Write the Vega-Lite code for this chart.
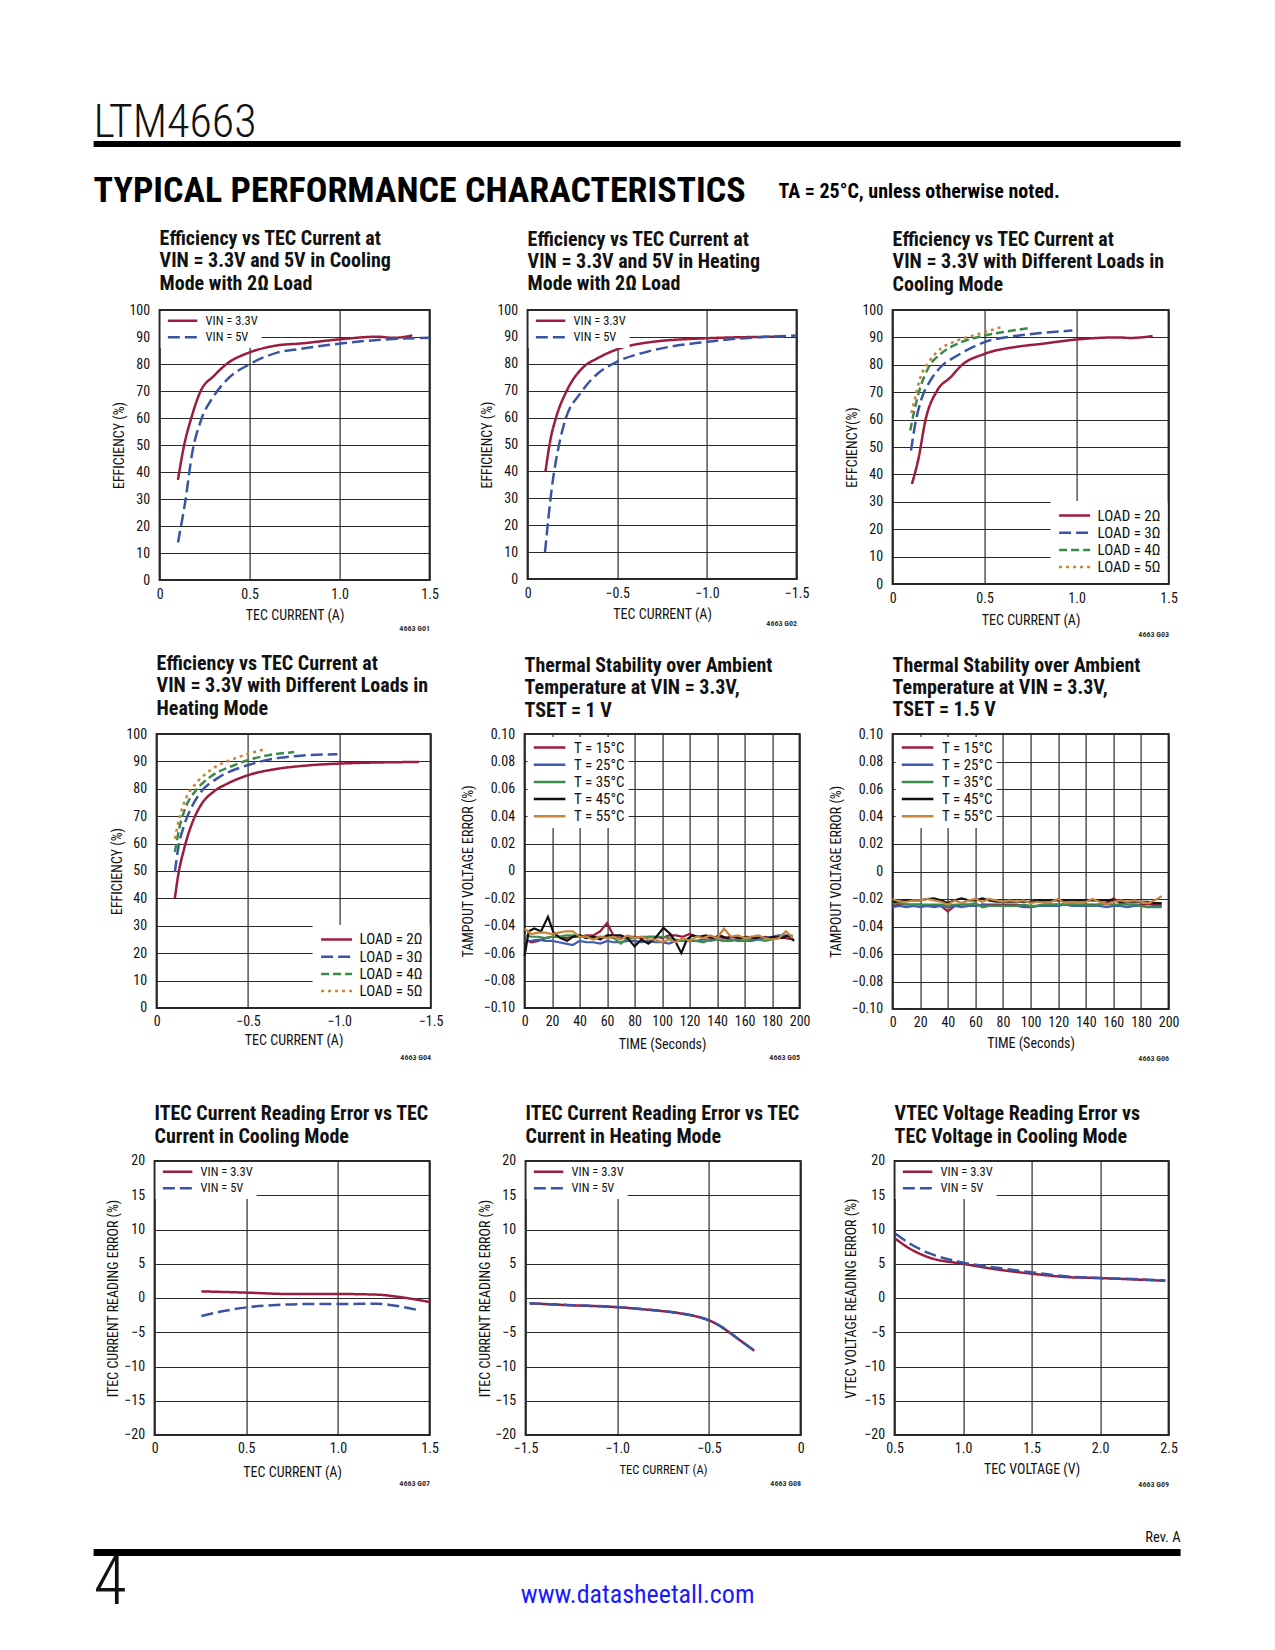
{
"$schema": "https://vega.github.io/schema/vega-lite/v6.json",
"background": "white",
"padding": {"left": 93.6, "top": 90, "right": 5, "bottom": 5},
"spacing": 0,
"bounds": "flush",
"resolve": {"scale": {"x": "independent", "y": "independent", "color": "independent", "strokeDash": "independent"}, "legend": {"color": "independent", "strokeDash": "independent"}},
"config": {
 "view": {"stroke": null},
 "font": "'Roboto Condensed', sans-serif",
 "title": {"fontSize": 20, "fontWeight": "bold", "color": "#111", "anchor": "start", "frame": "group", "lineHeight": 22.5},
 "axis": {"labelFontSize": 14, "labelColor": "#111", "labelPadding": 7, "labelFlush": false, "labelOverlap": false, "titleFontSize": 14, "titleFontWeight": "normal", "titleColor": "#111", "grid": true, "gridColor": "#2a2a2a", "gridWidth": 1.2, "gridOpacity": 1, "domain": false, "ticks": false},
 "axisY": {"labelPadding": 10},
 "legend": {"labelColor": "#111"}
},
"vconcat": [
 {"width": 1087, "height": 1, "data": {"values": []}, "mark": "point",
  "title": {"text": "LTM4663", "orient": "bottom", "anchor": "start", "baseline": "alphabetic", "offset": 46, "fontSize": 46, "fontWeight": 300, "color": "#111"}},
 {"width": 1, "height": 50, "data": {"values": []}, "mark": "point"},
 {"width": 1087, "height": 6, "view": {"fill": "black", "stroke": null}, "data": {"values": []}, "mark": "point"},
 {"hconcat": [
  {"width": 684.4, "height": 1, "data": {"values": []}, "mark": "point",
   "title": {"text": "TYPICAL PERFORMANCE CHARACTERISTICS", "orient": "bottom", "anchor": "start", "baseline": "alphabetic", "offset": 53.5, "fontSize": 36, "fontWeight": "bold", "color": "#000"}},
  {"width": 402.6, "height": 1, "data": {"values": []}, "mark": "point",
   "title": {"text": "TA = 25°C, unless otherwise noted.", "orient": "bottom", "anchor": "start", "baseline": "alphabetic", "offset": 49.8, "fontSize": 20, "fontWeight": "bold", "color": "#000"}}
 ], "spacing": 0, "bounds": "flush"},
 {"width": 1, "height": 163, "data": {"values": []}, "mark": "point"},
 {"hconcat": [
  {"width": 65.4, "height": 1, "data": {"values": []}, "mark": "point"},
  {"width": 270, "height": 270,
   "view": {"stroke": "#262626", "strokeWidth": 2},
   "title": {"text": ["Efficiency vs TEC Current at", "VIN = 3.3V and 5V in Cooling", "Mode with 2Ω Load"], "offset": 9},
   "data": {"values": [
    {"i":0.102,"k":"VIN = 3.3V","e":37.1},{"i":0.135,"k":"VIN = 3.3V","e":49.5},{"i":0.176,"k":"VIN = 3.3V","e":60},{"i":0.228,"k":"VIN = 3.3V","e":70},{"i":0.30,"k":"VIN = 3.3V","e":75.5},{"i":0.376,"k":"VIN = 3.3V","e":80.2},{"i":0.496,"k":"VIN = 3.3V","e":84.2},{"i":0.654,"k":"VIN = 3.3V","e":86.9},{"i":0.783,"k":"VIN = 3.3V","e":87.6},{"i":0.996,"k":"VIN = 3.3V","e":89.1},{"i":1.209,"k":"VIN = 3.3V","e":90.1},{"i":1.302,"k":"VIN = 3.3V","e":89.7},{"i":1.404,"k":"VIN = 3.3V","e":90.6},
    {"i":0.102,"k":"VIN = 5V","e":13.9},{"i":0.144,"k":"VIN = 5V","e":29.7},{"i":0.181,"k":"VIN = 5V","e":47},{"i":0.228,"k":"VIN = 5V","e":58.8},{"i":0.30,"k":"VIN = 5V","e":68},{"i":0.376,"k":"VIN = 5V","e":74.3},{"i":0.496,"k":"VIN = 5V","e":79.8},{"i":0.654,"k":"VIN = 5V","e":84.2},{"i":0.783,"k":"VIN = 5V","e":85.6},{"i":0.996,"k":"VIN = 5V","e":87.5},{"i":1.209,"k":"VIN = 5V","e":88.9},{"i":1.5,"k":"VIN = 5V","e":89.7}
   ]},
   "layer": [
    {"mark": {"type": "line", "strokeWidth": 2.5, "interpolate": "monotone"},
     "encoding": {
      "x": {"field": "i", "type": "quantitative", "scale": {"domain": [0, 1.5], "nice": false}, "axis": {"values": [0, 0.5, 1, 1.5], "labelExpr": "datum.value == 0 ? '0' : format(datum.value, '.1f')", "title": "TEC CURRENT (A)", "titlePadding": 7.6}},
      "y": {"field": "e", "type": "quantitative", "scale": {"domain": [0, 100], "nice": false}, "axis": {"values": [0,10,20,30,40,50,60,70,80,90,100], "title": "EFFICIENCY (%)", "titlePadding": 2}},
      "color": {"field": "k", "type": "nominal", "scale": {"domain": ["VIN = 3.3V", "VIN = 5V"], "range": ["#9c1c3c", "#3a54a4"]}, "legend": {"title": null, "orient": "top-left", "offset": 1, "fillColor": "white", "padding": 3, "symbolType": "stroke", "symbolSize": 870, "symbolStrokeWidth": 2.5, "symbolOffset": 3, "labelFontSize": 12.5, "labelOffset": 7, "rowPadding": 2.5, "clipHeight": 13.7}},
      "strokeDash": {"field": "k", "type": "nominal", "scale": {"domain": ["VIN = 3.3V", "VIN = 5V"], "range": [[1, 0], [12, 5]]}, "legend": {"title": null, "orient": "top-left", "offset": 1, "fillColor": "white", "padding": 3, "symbolType": "stroke", "symbolSize": 870, "symbolStrokeWidth": 2.5, "symbolOffset": 3, "labelFontSize": 12.5, "labelOffset": 7, "rowPadding": 2.5, "clipHeight": 13.7}}
     }},
    {"mark": {"type": "point", "opacity": 0},
     "encoding": {"x": {"field": "i", "type": "quantitative", "scale": {"domain": [0, 1.5], "nice": false}, "axis": {"orient": "bottom", "title": "4663 G01", "titleAnchor": "end", "titleFontSize": 8, "titleFontWeight": "bold", "titleColor": "#333", "labels": false, "ticks": false, "domain": false, "grid": false, "titlePadding": 44}}}}
   ],
   "resolve": {"scale": {"x": "independent"}, "axis": {"x": "independent"}}
  },
  {"width": 98, "height": 1, "data": {"values": []}, "mark": "point"},
  {"width": 269, "height": 269,
   "view": {"stroke": "#262626", "strokeWidth": 2},
   "title": {"text": ["Efficiency vs TEC Current at", "VIN = 3.3V and 5V in Heating", "Mode with 2Ω Load"], "offset": 8.5},
   "data": {"values": [
    {"i":-0.10,"k":"VIN = 3.3V","e":40.1},{"i":-0.127,"k":"VIN = 3.3V","e":51.7},{"i":-0.16,"k":"VIN = 3.3V","e":60.3},{"i":-0.22,"k":"VIN = 3.3V","e":70.2},{"i":-0.313,"k":"VIN = 3.3V","e":78.9},{"i":-0.388,"k":"VIN = 3.3V","e":82},{"i":-0.5,"k":"VIN = 3.3V","e":85.4},{"i":-0.667,"k":"VIN = 3.3V","e":87.9},{"i":-1.0,"k":"VIN = 3.3V","e":89.5},{"i":-1.43,"k":"VIN = 3.3V","e":90.1},
    {"i":-0.097,"k":"VIN = 5V","e":9.9},{"i":-0.136,"k":"VIN = 5V","e":34.3},{"i":-0.173,"k":"VIN = 5V","e":49.2},{"i":-0.21,"k":"VIN = 5V","e":59.1},{"i":-0.294,"k":"VIN = 5V","e":69},{"i":-0.388,"k":"VIN = 5V","e":76.2},{"i":-0.5,"k":"VIN = 5V","e":80.8},{"i":-0.667,"k":"VIN = 5V","e":84.5},{"i":-1.0,"k":"VIN = 5V","e":88.2},{"i":-1.5,"k":"VIN = 5V","e":90.5}
   ]},
   "layer": [
    {"mark": {"type": "line", "strokeWidth": 2.5, "interpolate": "monotone"},
     "encoding": {
      "x": {"field": "i", "type": "quantitative", "scale": {"domain": [0, -1.5], "nice": false}, "axis": {"values": [0, -0.5, -1, -1.5], "labelExpr": "datum.value == 0 ? '0' : format(datum.value, '.1f')", "title": "TEC CURRENT (A)", "titlePadding": 7}},
      "y": {"field": "e", "type": "quantitative", "scale": {"domain": [0, 100], "nice": false}, "axis": {"values": [0,10,20,30,40,50,60,70,80,90,100], "title": "EFFICIENCY (%)", "titlePadding": 2}},
      "color": {"field": "k", "type": "nominal", "scale": {"domain": ["VIN = 3.3V", "VIN = 5V"], "range": ["#9c1c3c", "#3a54a4"]}, "legend": {"title": null, "orient": "top-left", "offset": 1, "fillColor": "white", "padding": 3, "symbolType": "stroke", "symbolSize": 870, "symbolStrokeWidth": 2.5, "symbolOffset": 3, "labelFontSize": 12.5, "labelOffset": 7, "rowPadding": 2.5, "clipHeight": 13.7}},
      "strokeDash": {"field": "k", "type": "nominal", "scale": {"domain": ["VIN = 3.3V", "VIN = 5V"], "range": [[1, 0], [12, 5]]}, "legend": {"title": null, "orient": "top-left", "offset": 1, "fillColor": "white", "padding": 3, "symbolType": "stroke", "symbolSize": 870, "symbolStrokeWidth": 2.5, "symbolOffset": 3, "labelFontSize": 12.5, "labelOffset": 7, "rowPadding": 2.5, "clipHeight": 13.7}}
     }},
    {"mark": {"type": "point", "opacity": 0},
     "encoding": {"x": {"field": "i", "type": "quantitative", "scale": {"domain": [0, -1.5], "nice": false}, "axis": {"orient": "bottom", "title": "4663 G02", "titleAnchor": "end", "titleFontSize": 8, "titleFontWeight": "bold", "titleColor": "#333", "labels": false, "ticks": false, "domain": false, "grid": false, "titlePadding": 40}}}}
   ],
   "resolve": {"scale": {"x": "independent"}, "axis": {"x": "independent"}}
  },
  {"width": 96, "height": 1, "data": {"values": []}, "mark": "point"},
  {"width": 276, "height": 274,
   "view": {"stroke": "#262626", "strokeWidth": 2},
   "title": {"text": ["Efficiency vs TEC Current at", "VIN = 3.3V with Different Loads in", "Cooling Mode"], "offset": 8},
   "data": {"values": [
    {"i":0.105,"k":"LOAD = 2Ω","e":36.5},{"i":0.142,"k":"LOAD = 2Ω","e":46.2},{"i":0.178,"k":"LOAD = 2Ω","e":59.6},{"i":0.242,"k":"LOAD = 2Ω","e":70.6},{"i":0.314,"k":"LOAD = 2Ω","e":75.4},{"i":0.378,"k":"LOAD = 2Ω","e":80},{"i":0.496,"k":"LOAD = 2Ω","e":83.9},{"i":0.677,"k":"LOAD = 2Ω","e":86.6},{"i":0.804,"k":"LOAD = 2Ω","e":87.6},{"i":0.995,"k":"LOAD = 2Ω","e":89.2},{"i":1.222,"k":"LOAD = 2Ω","e":90},{"i":1.295,"k":"LOAD = 2Ω","e":89.8},{"i":1.413,"k":"LOAD = 2Ω","e":90.5},
    {"i":0.1,"k":"LOAD = 3Ω","e":48.7},{"i":0.123,"k":"LOAD = 3Ω","e":58.4},{"i":0.16,"k":"LOAD = 3Ω","e":68.1},{"i":0.205,"k":"LOAD = 3Ω","e":74.2},{"i":0.26,"k":"LOAD = 3Ω","e":79.1},{"i":0.35,"k":"LOAD = 3Ω","e":83.3},{"i":0.496,"k":"LOAD = 3Ω","e":88.2},{"i":0.677,"k":"LOAD = 3Ω","e":90.6},{"i":0.804,"k":"LOAD = 3Ω","e":91.6},{"i":0.977,"k":"LOAD = 3Ω","e":92.5},
    {"i":0.096,"k":"LOAD = 4Ω","e":56},{"i":0.118,"k":"LOAD = 4Ω","e":63.3},{"i":0.151,"k":"LOAD = 4Ω","e":71.8},{"i":0.196,"k":"LOAD = 4Ω","e":79.1},{"i":0.26,"k":"LOAD = 4Ω","e":83.9},{"i":0.35,"k":"LOAD = 4Ω","e":87.6},{"i":0.496,"k":"LOAD = 4Ω","e":90.6},{"i":0.623,"k":"LOAD = 4Ω","e":92.2},{"i":0.741,"k":"LOAD = 4Ω","e":93.4},
    {"i":0.102,"k":"LOAD = 5Ω","e":62.4},{"i":0.123,"k":"LOAD = 5Ω","e":68.1},{"i":0.151,"k":"LOAD = 5Ω","e":75.4},{"i":0.196,"k":"LOAD = 5Ω","e":80.9},{"i":0.26,"k":"LOAD = 5Ω","e":85.8},{"i":0.35,"k":"LOAD = 5Ω","e":88.8},{"i":0.496,"k":"LOAD = 5Ω","e":91.8},{"i":0.596,"k":"LOAD = 5Ω","e":93.9}
   ]},
   "layer": [
    {"mark": {"type": "line", "strokeWidth": 2.5, "interpolate": "monotone"},
     "encoding": {
      "x": {"field": "i", "type": "quantitative", "scale": {"domain": [0, 1.5], "nice": false}, "axis": {"values": [0, 0.5, 1, 1.5], "labelExpr": "datum.value == 0 ? '0' : format(datum.value, '.1f')", "title": "TEC CURRENT (A)", "titlePadding": 8}},
      "y": {"field": "e", "type": "quantitative", "scale": {"domain": [0, 100], "nice": false}, "axis": {"values": [0,10,20,30,40,50,60,70,80,90,100], "title": "EFFCIENCY(%)", "titlePadding": 2}},
      "color": {"field": "k", "type": "nominal", "scale": {"domain": ["LOAD = 2Ω", "LOAD = 3Ω", "LOAD = 4Ω", "LOAD = 5Ω"], "range": ["#9c1c3c", "#3a54a4", "#3a8a47", "#c8843c"]}, "legend": {"title": null, "orient": "bottom-right", "offset": 1.5, "fillColor": "white", "padding": 7, "symbolType": "stroke", "symbolSize": 961, "symbolStrokeWidth": 2.5, "symbolOffset": 0, "labelFontSize": 15, "labelOffset": 6, "rowPadding": 1.2, "clipHeight": 15}},
      "strokeDash": {"field": "k", "type": "nominal", "scale": {"domain": ["LOAD = 2Ω", "LOAD = 3Ω", "LOAD = 4Ω", "LOAD = 5Ω"], "range": [[1, 0], [12, 5], [8, 4], [3, 4]]}, "legend": {"title": null, "orient": "bottom-right", "offset": 1.5, "fillColor": "white", "padding": 7, "symbolType": "stroke", "symbolSize": 961, "symbolStrokeWidth": 2.5, "symbolOffset": 0, "labelFontSize": 15, "labelOffset": 6, "rowPadding": 1.2, "clipHeight": 15}}
     }},
    {"mark": {"type": "point", "opacity": 0},
     "encoding": {"x": {"field": "i", "type": "quantitative", "scale": {"domain": [0, 1.5], "nice": false}, "axis": {"orient": "bottom", "title": "4663 G03", "titleAnchor": "end", "titleFontSize": 8, "titleFontWeight": "bold", "titleColor": "#333", "labels": false, "ticks": false, "domain": false, "grid": false, "titlePadding": 46}}}}
   ],
   "resolve": {"scale": {"x": "independent"}, "axis": {"x": "independent"}}
  }
 ], "spacing": 0, "bounds": "flush",
 "resolve": {"scale": {"x": "independent", "y": "independent", "color": "independent", "strokeDash": "independent"}, "legend": {"color": "independent", "strokeDash": "independent"}}},
 {"width": 1, "height": 424, "data": {"values": []}, "mark": "point"},
 {"hconcat": [
  {"width": 62.1, "height": 1, "data": {"values": []}, "mark": "point"},
  {"width": 274, "height": 274,
   "view": {"stroke": "#262626", "strokeWidth": 2},
   "title": {"text": ["Efficiency vs TEC Current at", "VIN = 3.3V with Different Loads in", "Heating Mode"], "offset": 8},
   "data": {"values": [
    {"i":-0.1,"k":"LOAD = 2Ω","e":40.1},{"i":-0.118,"k":"LOAD = 2Ω","e":48.4},{"i":-0.151,"k":"LOAD = 2Ω","e":58.2},{"i":-0.197,"k":"LOAD = 2Ω","e":67.9},{"i":-0.242,"k":"LOAD = 2Ω","e":74},{"i":-0.315,"k":"LOAD = 2Ω","e":79.1},{"i":-0.388,"k":"LOAD = 2Ω","e":81.9},{"i":-0.498,"k":"LOAD = 2Ω","e":84.9},{"i":-0.662,"k":"LOAD = 2Ω","e":87.3},{"i":-0.789,"k":"LOAD = 2Ω","e":88.3},{"i":-0.999,"k":"LOAD = 2Ω","e":89.2},{"i":-1.436,"k":"LOAD = 2Ω","e":89.8},
    {"i":-0.1,"k":"LOAD = 3Ω","e":49.6},{"i":-0.118,"k":"LOAD = 3Ω","e":58.2},{"i":-0.151,"k":"LOAD = 3Ω","e":66.7},{"i":-0.197,"k":"LOAD = 3Ω","e":74},{"i":-0.242,"k":"LOAD = 3Ω","e":78.8},{"i":-0.334,"k":"LOAD = 3Ω","e":83.9},{"i":-0.498,"k":"LOAD = 3Ω","e":88.6},{"i":-0.662,"k":"LOAD = 3Ω","e":91.2},{"i":-0.789,"k":"LOAD = 3Ω","e":92.1},{"i":-0.99,"k":"LOAD = 3Ω","e":92.6},
    {"i":-0.1,"k":"LOAD = 4Ω","e":56.9},{"i":-0.124,"k":"LOAD = 4Ω","e":65.5},{"i":-0.16,"k":"LOAD = 4Ω","e":73.4},{"i":-0.215,"k":"LOAD = 4Ω","e":79.4},{"i":-0.297,"k":"LOAD = 4Ω","e":84.5},{"i":-0.425,"k":"LOAD = 4Ω","e":88.6},{"i":-0.498,"k":"LOAD = 4Ω","e":90.4},{"i":-0.607,"k":"LOAD = 4Ω","e":92.2},{"i":-0.753,"k":"LOAD = 4Ω","e":93.4},
    {"i":-0.1,"k":"LOAD = 5Ω","e":61.8},{"i":-0.124,"k":"LOAD = 5Ω","e":69.1},{"i":-0.16,"k":"LOAD = 5Ω","e":76.4},{"i":-0.215,"k":"LOAD = 5Ω","e":81.9},{"i":-0.297,"k":"LOAD = 5Ω","e":86.9},{"i":-0.425,"k":"LOAD = 5Ω","e":91},{"i":-0.498,"k":"LOAD = 5Ω","e":92.7},{"i":-0.598,"k":"LOAD = 5Ω","e":94.5}
   ]},
   "layer": [
    {"mark": {"type": "line", "strokeWidth": 2.5, "interpolate": "monotone"},
     "encoding": {
      "x": {"field": "i", "type": "quantitative", "scale": {"domain": [0, -1.5], "nice": false}, "axis": {"values": [0, -0.5, -1, -1.5], "labelExpr": "datum.value == 0 ? '0' : format(datum.value, '.1f')", "title": "TEC CURRENT (A)", "titlePadding": 5}},
      "y": {"field": "e", "type": "quantitative", "scale": {"domain": [0, 100], "nice": false}, "axis": {"values": [0,10,20,30,40,50,60,70,80,90,100], "title": "EFFICIENCY (%)", "titlePadding": 1.5}},
      "color": {"field": "k", "type": "nominal", "scale": {"domain": ["LOAD = 2Ω", "LOAD = 3Ω", "LOAD = 4Ω", "LOAD = 5Ω"], "range": ["#9c1c3c", "#3a54a4", "#3a8a47", "#c8843c"]}, "legend": {"title": null, "orient": "bottom-right", "offset": 1.5, "fillColor": "white", "padding": 7, "symbolType": "stroke", "symbolSize": 961, "symbolStrokeWidth": 2.5, "symbolOffset": 0, "labelFontSize": 15, "labelOffset": 6, "rowPadding": 1.2, "clipHeight": 15}},
      "strokeDash": {"field": "k", "type": "nominal", "scale": {"domain": ["LOAD = 2Ω", "LOAD = 3Ω", "LOAD = 4Ω", "LOAD = 5Ω"], "range": [[1, 0], [12, 5], [8, 4], [3, 4]]}, "legend": {"title": null, "orient": "bottom-right", "offset": 1.5, "fillColor": "white", "padding": 7, "symbolType": "stroke", "symbolSize": 961, "symbolStrokeWidth": 2.5, "symbolOffset": 0, "labelFontSize": 15, "labelOffset": 6, "rowPadding": 1.2, "clipHeight": 15}}
     }},
    {"mark": {"type": "point", "opacity": 0},
     "encoding": {"x": {"field": "i", "type": "quantitative", "scale": {"domain": [0, -1.5], "nice": false}, "axis": {"orient": "bottom", "title": "4663 G04", "titleAnchor": "end", "titleFontSize": 8, "titleFontWeight": "bold", "titleColor": "#333", "labels": false, "ticks": false, "domain": false, "grid": false, "titlePadding": 46}}}}
   ],
   "resolve": {"scale": {"x": "independent"}, "axis": {"x": "independent"}}
  },
  {"width": 94, "height": 1, "data": {"values": []}, "mark": "point"},
  {"width": 275, "height": 274,
   "view": {"stroke": "#262626", "strokeWidth": 2},
   "title": {"text": ["Thermal Stability over Ambient", "Temperature at VIN = 3.3V,", "TSET = 1 V"], "offset": 6},
   "data": {"values": [
    {"t":0,"k":"T = 15°C","e":-0.050},{"t":5,"k":"T = 15°C","e":-0.052},{"t":10,"k":"T = 15°C","e":-0.051},{"t":15,"k":"T = 15°C","e":-0.049},{"t":20,"k":"T = 15°C","e":-0.048},{"t":25,"k":"T = 15°C","e":-0.048},{"t":30,"k":"T = 15°C","e":-0.049},{"t":35,"k":"T = 15°C","e":-0.048},{"t":40,"k":"T = 15°C","e":-0.048},{"t":45,"k":"T = 15°C","e":-0.047},
    {"t":50,"k":"T = 15°C","e":-0.047},{"t":55,"k":"T = 15°C","e":-0.044},{"t":60,"k":"T = 15°C","e":-0.038},{"t":65,"k":"T = 15°C","e":-0.048},{"t":70,"k":"T = 15°C","e":-0.049},{"t":75,"k":"T = 15°C","e":-0.048},{"t":80,"k":"T = 15°C","e":-0.048},{"t":85,"k":"T = 15°C","e":-0.049},{"t":90,"k":"T = 15°C","e":-0.048},{"t":95,"k":"T = 15°C","e":-0.048},
    {"t":100,"k":"T = 15°C","e":-0.049},{"t":105,"k":"T = 15°C","e":-0.047},{"t":110,"k":"T = 15°C","e":-0.047},{"t":115,"k":"T = 15°C","e":-0.048},{"t":120,"k":"T = 15°C","e":-0.046},{"t":125,"k":"T = 15°C","e":-0.048},{"t":130,"k":"T = 15°C","e":-0.048},{"t":135,"k":"T = 15°C","e":-0.049},{"t":140,"k":"T = 15°C","e":-0.048},{"t":145,"k":"T = 15°C","e":-0.049},
    {"t":150,"k":"T = 15°C","e":-0.048},{"t":155,"k":"T = 15°C","e":-0.049},{"t":160,"k":"T = 15°C","e":-0.049},{"t":165,"k":"T = 15°C","e":-0.048},{"t":170,"k":"T = 15°C","e":-0.049},{"t":175,"k":"T = 15°C","e":-0.048},{"t":180,"k":"T = 15°C","e":-0.049},{"t":185,"k":"T = 15°C","e":-0.048},{"t":190,"k":"T = 15°C","e":-0.049},{"t":195,"k":"T = 15°C","e":-0.050},
    {"t":0,"k":"T = 25°C","e":-0.051},{"t":5,"k":"T = 25°C","e":-0.051},{"t":10,"k":"T = 25°C","e":-0.050},{"t":15,"k":"T = 25°C","e":-0.051},{"t":20,"k":"T = 25°C","e":-0.051},{"t":25,"k":"T = 25°C","e":-0.052},{"t":30,"k":"T = 25°C","e":-0.053},{"t":35,"k":"T = 25°C","e":-0.054},{"t":40,"k":"T = 25°C","e":-0.051},{"t":45,"k":"T = 25°C","e":-0.052},
    {"t":50,"k":"T = 25°C","e":-0.052},{"t":55,"k":"T = 25°C","e":-0.053},{"t":60,"k":"T = 25°C","e":-0.051},{"t":65,"k":"T = 25°C","e":-0.052},{"t":70,"k":"T = 25°C","e":-0.052},{"t":75,"k":"T = 25°C","e":-0.051},{"t":80,"k":"T = 25°C","e":-0.051},{"t":85,"k":"T = 25°C","e":-0.052},{"t":90,"k":"T = 25°C","e":-0.051},{"t":95,"k":"T = 25°C","e":-0.052},
    {"t":100,"k":"T = 25°C","e":-0.052},{"t":105,"k":"T = 25°C","e":-0.053},{"t":110,"k":"T = 25°C","e":-0.051},{"t":115,"k":"T = 25°C","e":-0.051},{"t":120,"k":"T = 25°C","e":-0.051},{"t":125,"k":"T = 25°C","e":-0.051},{"t":130,"k":"T = 25°C","e":-0.050},{"t":135,"k":"T = 25°C","e":-0.051},{"t":140,"k":"T = 25°C","e":-0.050},{"t":145,"k":"T = 25°C","e":-0.051},
    {"t":150,"k":"T = 25°C","e":-0.050},{"t":155,"k":"T = 25°C","e":-0.051},{"t":160,"k":"T = 25°C","e":-0.051},{"t":165,"k":"T = 25°C","e":-0.051},{"t":170,"k":"T = 25°C","e":-0.050},{"t":175,"k":"T = 25°C","e":-0.049},{"t":180,"k":"T = 25°C","e":-0.048},{"t":185,"k":"T = 25°C","e":-0.047},{"t":190,"k":"T = 25°C","e":-0.047},{"t":195,"k":"T = 25°C","e":-0.049},
    {"t":0,"k":"T = 35°C","e":-0.047},{"t":5,"k":"T = 35°C","e":-0.048},{"t":10,"k":"T = 35°C","e":-0.048},{"t":15,"k":"T = 35°C","e":-0.049},{"t":20,"k":"T = 35°C","e":-0.048},{"t":25,"k":"T = 35°C","e":-0.048},{"t":30,"k":"T = 35°C","e":-0.047},{"t":35,"k":"T = 35°C","e":-0.047},{"t":40,"k":"T = 35°C","e":-0.047},{"t":45,"k":"T = 35°C","e":-0.048},
    {"t":50,"k":"T = 35°C","e":-0.048},{"t":55,"k":"T = 35°C","e":-0.048},{"t":60,"k":"T = 35°C","e":-0.048},{"t":65,"k":"T = 35°C","e":-0.049},{"t":70,"k":"T = 35°C","e":-0.053},{"t":75,"k":"T = 35°C","e":-0.049},{"t":80,"k":"T = 35°C","e":-0.049},{"t":85,"k":"T = 35°C","e":-0.048},{"t":90,"k":"T = 35°C","e":-0.048},{"t":95,"k":"T = 35°C","e":-0.048},
    {"t":100,"k":"T = 35°C","e":-0.048},{"t":105,"k":"T = 35°C","e":-0.049},{"t":110,"k":"T = 35°C","e":-0.050},{"t":115,"k":"T = 35°C","e":-0.051},{"t":120,"k":"T = 35°C","e":-0.051},{"t":125,"k":"T = 35°C","e":-0.051},{"t":130,"k":"T = 35°C","e":-0.052},{"t":135,"k":"T = 35°C","e":-0.050},{"t":140,"k":"T = 35°C","e":-0.050},{"t":145,"k":"T = 35°C","e":-0.051},
    {"t":150,"k":"T = 35°C","e":-0.051},{"t":155,"k":"T = 35°C","e":-0.050},{"t":160,"k":"T = 35°C","e":-0.051},{"t":165,"k":"T = 35°C","e":-0.050},{"t":170,"k":"T = 35°C","e":-0.050},{"t":175,"k":"T = 35°C","e":-0.051},{"t":180,"k":"T = 35°C","e":-0.050},{"t":185,"k":"T = 35°C","e":-0.049},{"t":190,"k":"T = 35°C","e":-0.048},{"t":195,"k":"T = 35°C","e":-0.047},
    {"t":0,"k":"T = 45°C","e":-0.062},{"t":3,"k":"T = 45°C","e":-0.044},{"t":7,"k":"T = 45°C","e":-0.042},{"t":12,"k":"T = 45°C","e":-0.044},{"t":17,"k":"T = 45°C","e":-0.0335},{"t":21,"k":"T = 45°C","e":-0.045},{"t":26,"k":"T = 45°C","e":-0.049},{"t":31,"k":"T = 45°C","e":-0.051},{"t":35,"k":"T = 45°C","e":-0.048},{"t":40,"k":"T = 45°C","e":-0.047},
    {"t":45,"k":"T = 45°C","e":-0.049},{"t":50,"k":"T = 45°C","e":-0.048},{"t":55,"k":"T = 45°C","e":-0.050},{"t":60,"k":"T = 45°C","e":-0.047},{"t":65,"k":"T = 45°C","e":-0.047},{"t":70,"k":"T = 45°C","e":-0.047},{"t":75,"k":"T = 45°C","e":-0.049},{"t":80,"k":"T = 45°C","e":-0.055},{"t":85,"k":"T = 45°C","e":-0.050},{"t":90,"k":"T = 45°C","e":-0.053},
    {"t":95,"k":"T = 45°C","e":-0.049},{"t":101,"k":"T = 45°C","e":-0.0415},{"t":106,"k":"T = 45°C","e":-0.046},{"t":110,"k":"T = 45°C","e":-0.052},{"t":114,"k":"T = 45°C","e":-0.060},{"t":118,"k":"T = 45°C","e":-0.050},{"t":122,"k":"T = 45°C","e":-0.047},{"t":127,"k":"T = 45°C","e":-0.048},{"t":132,"k":"T = 45°C","e":-0.047},{"t":137,"k":"T = 45°C","e":-0.049},
    {"t":142,"k":"T = 45°C","e":-0.047},{"t":147,"k":"T = 45°C","e":-0.049},{"t":152,"k":"T = 45°C","e":-0.048},{"t":157,"k":"T = 45°C","e":-0.049},{"t":162,"k":"T = 45°C","e":-0.048},{"t":167,"k":"T = 45°C","e":-0.049},{"t":172,"k":"T = 45°C","e":-0.048},{"t":177,"k":"T = 45°C","e":-0.049},{"t":182,"k":"T = 45°C","e":-0.048},{"t":187,"k":"T = 45°C","e":-0.049},
    {"t":192,"k":"T = 45°C","e":-0.047},{"t":196,"k":"T = 45°C","e":-0.051},
    {"t":0,"k":"T = 55°C","e":-0.042},{"t":5,"k":"T = 55°C","e":-0.046},{"t":10,"k":"T = 55°C","e":-0.045},{"t":15,"k":"T = 55°C","e":-0.045},{"t":20,"k":"T = 55°C","e":-0.046},{"t":25,"k":"T = 55°C","e":-0.045},{"t":30,"k":"T = 55°C","e":-0.044},{"t":35,"k":"T = 55°C","e":-0.044},{"t":40,"k":"T = 55°C","e":-0.048},{"t":45,"k":"T = 55°C","e":-0.048},
    {"t":50,"k":"T = 55°C","e":-0.050},{"t":55,"k":"T = 55°C","e":-0.048},{"t":60,"k":"T = 55°C","e":-0.049},{"t":65,"k":"T = 55°C","e":-0.048},{"t":70,"k":"T = 55°C","e":-0.050},{"t":75,"k":"T = 55°C","e":-0.047},{"t":80,"k":"T = 55°C","e":-0.049},{"t":85,"k":"T = 55°C","e":-0.048},{"t":90,"k":"T = 55°C","e":-0.050},{"t":95,"k":"T = 55°C","e":-0.050},
    {"t":100,"k":"T = 55°C","e":-0.052},{"t":105,"k":"T = 55°C","e":-0.050},{"t":110,"k":"T = 55°C","e":-0.052},{"t":115,"k":"T = 55°C","e":-0.049},{"t":120,"k":"T = 55°C","e":-0.051},{"t":125,"k":"T = 55°C","e":-0.048},{"t":130,"k":"T = 55°C","e":-0.049},{"t":135,"k":"T = 55°C","e":-0.047},{"t":140,"k":"T = 55°C","e":-0.049},{"t":145,"k":"T = 55°C","e":-0.042},
    {"t":150,"k":"T = 55°C","e":-0.048},{"t":155,"k":"T = 55°C","e":-0.047},{"t":160,"k":"T = 55°C","e":-0.049},{"t":165,"k":"T = 55°C","e":-0.048},{"t":170,"k":"T = 55°C","e":-0.047},{"t":175,"k":"T = 55°C","e":-0.049},{"t":180,"k":"T = 55°C","e":-0.050},{"t":185,"k":"T = 55°C","e":-0.049},{"t":190,"k":"T = 55°C","e":-0.044},{"t":195,"k":"T = 55°C","e":-0.049}
   ]},
   "layer": [
    {"mark": {"type": "line", "strokeWidth": 2.2},
     "encoding": {
      "x": {"field": "t", "type": "quantitative", "scale": {"domain": [0, 200], "nice": false}, "axis": {"values": [0,20,40,60,80,100,120,140,160,180,200], "format": "d", "title": "TIME (Seconds)", "titlePadding": 9}},
      "y": {"field": "e", "type": "quantitative", "scale": {"domain": [-0.1, 0.1], "nice": false, "zero": false}, "axis": {"values": [-0.1,-0.08,-0.06,-0.04,-0.02,0,0.02,0.04,0.06,0.08,0.1], "labelExpr": "datum.value == 0 ? '0' : format(datum.value, '.2f')", "title": "TAMPOUT VOLTAGE ERROR (%)", "titlePadding": 7.3}},
      "color": {"field": "k", "type": "nominal", "scale": {"domain": ["T = 15°C", "T = 25°C", "T = 35°C", "T = 45°C", "T = 55°C"], "range": ["#9c1c3c", "#3f5bb5", "#3a8f4a", "#111111", "#c8843c"]}, "legend": {"title": null, "orient": "top-left", "offset": 3, "fillColor": "white", "padding": 3, "symbolType": "stroke", "symbolSize": 1000, "symbolStrokeWidth": 2.5, "symbolOffset": 1.5, "labelFontSize": 15, "labelOffset": 7, "rowPadding": 1.2, "clipHeight": 15}}
     }},
    {"mark": {"type": "point", "opacity": 0},
     "encoding": {"x": {"field": "t", "type": "quantitative", "scale": {"domain": [0, 200], "nice": false}, "axis": {"orient": "bottom", "title": "4663 G05", "titleAnchor": "end", "titleFontSize": 8, "titleFontWeight": "bold", "titleColor": "#333", "labels": false, "ticks": false, "domain": false, "grid": false, "titlePadding": 46}}}}
   ],
   "resolve": {"scale": {"x": "independent"}, "axis": {"x": "independent"}}
  },
  {"width": 92.3, "height": 1, "data": {"values": []}, "mark": "point"},
  {"width": 276, "height": 275,
   "view": {"stroke": "#262626", "strokeWidth": 2},
   "title": {"text": ["Thermal Stability over Ambient", "Temperature at VIN = 3.3V,", "TSET = 1.5 V"], "offset": 6.5},
   "data": {"values": [
    {"t":0,"k":"T = 15°C","e":-0.025},{"t":5,"k":"T = 15°C","e":-0.024},{"t":10,"k":"T = 15°C","e":-0.024},{"t":15,"k":"T = 15°C","e":-0.024},{"t":20,"k":"T = 15°C","e":-0.024},{"t":25,"k":"T = 15°C","e":-0.025},{"t":30,"k":"T = 15°C","e":-0.025},{"t":35,"k":"T = 15°C","e":-0.025},{"t":40,"k":"T = 15°C","e":-0.029},{"t":45,"k":"T = 15°C","e":-0.025},
    {"t":50,"k":"T = 15°C","e":-0.024},{"t":55,"k":"T = 15°C","e":-0.024},{"t":60,"k":"T = 15°C","e":-0.025},{"t":65,"k":"T = 15°C","e":-0.024},{"t":70,"k":"T = 15°C","e":-0.024},{"t":75,"k":"T = 15°C","e":-0.024},{"t":80,"k":"T = 15°C","e":-0.024},{"t":85,"k":"T = 15°C","e":-0.024},{"t":90,"k":"T = 15°C","e":-0.024},{"t":95,"k":"T = 15°C","e":-0.025},
    {"t":100,"k":"T = 15°C","e":-0.026},{"t":105,"k":"T = 15°C","e":-0.025},{"t":110,"k":"T = 15°C","e":-0.024},{"t":115,"k":"T = 15°C","e":-0.024},{"t":120,"k":"T = 15°C","e":-0.024},{"t":125,"k":"T = 15°C","e":-0.024},{"t":130,"k":"T = 15°C","e":-0.024},{"t":135,"k":"T = 15°C","e":-0.024},{"t":140,"k":"T = 15°C","e":-0.024},{"t":145,"k":"T = 15°C","e":-0.024},
    {"t":150,"k":"T = 15°C","e":-0.024},{"t":155,"k":"T = 15°C","e":-0.023},{"t":160,"k":"T = 15°C","e":-0.0195},{"t":165,"k":"T = 15°C","e":-0.023},{"t":170,"k":"T = 15°C","e":-0.024},{"t":175,"k":"T = 15°C","e":-0.024},{"t":180,"k":"T = 15°C","e":-0.024},{"t":185,"k":"T = 15°C","e":-0.024},{"t":190,"k":"T = 15°C","e":-0.024},{"t":195,"k":"T = 15°C","e":-0.024},
    {"t":0,"k":"T = 25°C","e":-0.026},{"t":5,"k":"T = 25°C","e":-0.025},{"t":10,"k":"T = 25°C","e":-0.026},{"t":15,"k":"T = 25°C","e":-0.025},{"t":20,"k":"T = 25°C","e":-0.026},{"t":25,"k":"T = 25°C","e":-0.025},{"t":30,"k":"T = 25°C","e":-0.026},{"t":35,"k":"T = 25°C","e":-0.025},{"t":40,"k":"T = 25°C","e":-0.026},{"t":45,"k":"T = 25°C","e":-0.025},
    {"t":50,"k":"T = 25°C","e":-0.026},{"t":55,"k":"T = 25°C","e":-0.025},{"t":60,"k":"T = 25°C","e":-0.025},{"t":65,"k":"T = 25°C","e":-0.024},{"t":70,"k":"T = 25°C","e":-0.025},{"t":75,"k":"T = 25°C","e":-0.025},{"t":80,"k":"T = 25°C","e":-0.025},{"t":85,"k":"T = 25°C","e":-0.025},{"t":90,"k":"T = 25°C","e":-0.025},{"t":95,"k":"T = 25°C","e":-0.026},
    {"t":100,"k":"T = 25°C","e":-0.026},{"t":105,"k":"T = 25°C","e":-0.025},{"t":110,"k":"T = 25°C","e":-0.025},{"t":115,"k":"T = 25°C","e":-0.025},{"t":120,"k":"T = 25°C","e":-0.025},{"t":125,"k":"T = 25°C","e":-0.024},{"t":130,"k":"T = 25°C","e":-0.025},{"t":135,"k":"T = 25°C","e":-0.025},{"t":140,"k":"T = 25°C","e":-0.025},{"t":145,"k":"T = 25°C","e":-0.025},
    {"t":150,"k":"T = 25°C","e":-0.025},{"t":155,"k":"T = 25°C","e":-0.026},{"t":160,"k":"T = 25°C","e":-0.025},{"t":165,"k":"T = 25°C","e":-0.025},{"t":170,"k":"T = 25°C","e":-0.026},{"t":175,"k":"T = 25°C","e":-0.025},{"t":180,"k":"T = 25°C","e":-0.025},{"t":185,"k":"T = 25°C","e":-0.026},{"t":190,"k":"T = 25°C","e":-0.025},{"t":195,"k":"T = 25°C","e":-0.025},
    {"t":0,"k":"T = 35°C","e":-0.023},{"t":5,"k":"T = 35°C","e":-0.023},{"t":10,"k":"T = 35°C","e":-0.024},{"t":15,"k":"T = 35°C","e":-0.024},{"t":20,"k":"T = 35°C","e":-0.024},{"t":25,"k":"T = 35°C","e":-0.024},{"t":30,"k":"T = 35°C","e":-0.024},{"t":35,"k":"T = 35°C","e":-0.024},{"t":40,"k":"T = 35°C","e":-0.025},{"t":45,"k":"T = 35°C","e":-0.024},
    {"t":50,"k":"T = 35°C","e":-0.024},{"t":55,"k":"T = 35°C","e":-0.024},{"t":60,"k":"T = 35°C","e":-0.023},{"t":65,"k":"T = 35°C","e":-0.026},{"t":70,"k":"T = 35°C","e":-0.025},{"t":75,"k":"T = 35°C","e":-0.025},{"t":80,"k":"T = 35°C","e":-0.025},{"t":85,"k":"T = 35°C","e":-0.025},{"t":90,"k":"T = 35°C","e":-0.025},{"t":95,"k":"T = 35°C","e":-0.024},
    {"t":100,"k":"T = 35°C","e":-0.025},{"t":105,"k":"T = 35°C","e":-0.025},{"t":110,"k":"T = 35°C","e":-0.024},{"t":115,"k":"T = 35°C","e":-0.024},{"t":120,"k":"T = 35°C","e":-0.024},{"t":125,"k":"T = 35°C","e":-0.024},{"t":130,"k":"T = 35°C","e":-0.024},{"t":135,"k":"T = 35°C","e":-0.024},{"t":140,"k":"T = 35°C","e":-0.024},{"t":145,"k":"T = 35°C","e":-0.025},
    {"t":150,"k":"T = 35°C","e":-0.024},{"t":155,"k":"T = 35°C","e":-0.024},{"t":160,"k":"T = 35°C","e":-0.024},{"t":165,"k":"T = 35°C","e":-0.024},{"t":170,"k":"T = 35°C","e":-0.024},{"t":175,"k":"T = 35°C","e":-0.024},{"t":180,"k":"T = 35°C","e":-0.025},{"t":185,"k":"T = 35°C","e":-0.026},{"t":190,"k":"T = 35°C","e":-0.026},{"t":195,"k":"T = 35°C","e":-0.026},
    {"t":0,"k":"T = 45°C","e":-0.022},{"t":5,"k":"T = 45°C","e":-0.022},{"t":10,"k":"T = 45°C","e":-0.021},{"t":15,"k":"T = 45°C","e":-0.021},{"t":20,"k":"T = 45°C","e":-0.021},{"t":25,"k":"T = 45°C","e":-0.020},{"t":30,"k":"T = 45°C","e":-0.0195},{"t":35,"k":"T = 45°C","e":-0.021},{"t":40,"k":"T = 45°C","e":-0.023},{"t":45,"k":"T = 45°C","e":-0.021},
    {"t":50,"k":"T = 45°C","e":-0.0195},{"t":55,"k":"T = 45°C","e":-0.021},{"t":60,"k":"T = 45°C","e":-0.021},{"t":65,"k":"T = 45°C","e":-0.0195},{"t":70,"k":"T = 45°C","e":-0.021},{"t":75,"k":"T = 45°C","e":-0.022},{"t":80,"k":"T = 45°C","e":-0.022},{"t":85,"k":"T = 45°C","e":-0.022},{"t":90,"k":"T = 45°C","e":-0.022},{"t":95,"k":"T = 45°C","e":-0.022},
    {"t":100,"k":"T = 45°C","e":-0.022},{"t":105,"k":"T = 45°C","e":-0.021},{"t":110,"k":"T = 45°C","e":-0.021},{"t":115,"k":"T = 45°C","e":-0.021},{"t":120,"k":"T = 45°C","e":-0.021},{"t":125,"k":"T = 45°C","e":-0.021},{"t":130,"k":"T = 45°C","e":-0.021},{"t":135,"k":"T = 45°C","e":-0.021},{"t":140,"k":"T = 45°C","e":-0.021},{"t":145,"k":"T = 45°C","e":-0.021},
    {"t":150,"k":"T = 45°C","e":-0.021},{"t":155,"k":"T = 45°C","e":-0.021},{"t":160,"k":"T = 45°C","e":-0.021},{"t":165,"k":"T = 45°C","e":-0.022},{"t":170,"k":"T = 45°C","e":-0.022},{"t":175,"k":"T = 45°C","e":-0.022},{"t":180,"k":"T = 45°C","e":-0.022},{"t":185,"k":"T = 45°C","e":-0.022},{"t":190,"k":"T = 45°C","e":-0.023},{"t":195,"k":"T = 45°C","e":-0.023},
    {"t":0,"k":"T = 55°C","e":-0.020},{"t":5,"k":"T = 55°C","e":-0.022},{"t":10,"k":"T = 55°C","e":-0.022},{"t":15,"k":"T = 55°C","e":-0.021},{"t":20,"k":"T = 55°C","e":-0.021},{"t":25,"k":"T = 55°C","e":-0.020},{"t":30,"k":"T = 55°C","e":-0.021},{"t":35,"k":"T = 55°C","e":-0.022},{"t":40,"k":"T = 55°C","e":-0.024},{"t":45,"k":"T = 55°C","e":-0.021},
    {"t":50,"k":"T = 55°C","e":-0.023},{"t":55,"k":"T = 55°C","e":-0.021},{"t":60,"k":"T = 55°C","e":-0.020},{"t":65,"k":"T = 55°C","e":-0.022},{"t":70,"k":"T = 55°C","e":-0.020},{"t":75,"k":"T = 55°C","e":-0.021},{"t":80,"k":"T = 55°C","e":-0.022},{"t":85,"k":"T = 55°C","e":-0.021},{"t":90,"k":"T = 55°C","e":-0.022},{"t":95,"k":"T = 55°C","e":-0.021},
    {"t":100,"k":"T = 55°C","e":-0.023},{"t":105,"k":"T = 55°C","e":-0.022},{"t":110,"k":"T = 55°C","e":-0.023},{"t":115,"k":"T = 55°C","e":-0.022},{"t":120,"k":"T = 55°C","e":-0.020},{"t":125,"k":"T = 55°C","e":-0.023},{"t":130,"k":"T = 55°C","e":-0.022},{"t":135,"k":"T = 55°C","e":-0.023},{"t":140,"k":"T = 55°C","e":-0.022},{"t":145,"k":"T = 55°C","e":-0.020},
    {"t":150,"k":"T = 55°C","e":-0.022},{"t":155,"k":"T = 55°C","e":-0.024},{"t":160,"k":"T = 55°C","e":-0.022},{"t":165,"k":"T = 55°C","e":-0.021},{"t":170,"k":"T = 55°C","e":-0.022},{"t":175,"k":"T = 55°C","e":-0.021},{"t":180,"k":"T = 55°C","e":-0.022},{"t":185,"k":"T = 55°C","e":-0.023},{"t":190,"k":"T = 55°C","e":-0.021},{"t":195,"k":"T = 55°C","e":-0.018}
   ]},
   "layer": [
    {"mark": {"type": "line", "strokeWidth": 2.2},
     "encoding": {
      "x": {"field": "t", "type": "quantitative", "scale": {"domain": [0, 200], "nice": false}, "axis": {"values": [0,20,40,60,80,100,120,140,160,180,200], "format": "d", "title": "TIME (Seconds)", "titlePadding": 7}},
      "y": {"field": "e", "type": "quantitative", "scale": {"domain": [-0.1, 0.1], "nice": false, "zero": false}, "axis": {"values": [-0.1,-0.08,-0.06,-0.04,-0.02,0,0.02,0.04,0.06,0.08,0.1], "labelExpr": "datum.value == 0 ? '0' : format(datum.value, '.2f')", "title": "TAMPOUT VOLTAGE ERROR (%)", "titlePadding": 7.4}},
      "color": {"field": "k", "type": "nominal", "scale": {"domain": ["T = 15°C", "T = 25°C", "T = 35°C", "T = 45°C", "T = 55°C"], "range": ["#9c1c3c", "#3f5bb5", "#3a8f4a", "#111111", "#c8843c"]}, "legend": {"title": null, "orient": "top-left", "offset": 3, "fillColor": "white", "padding": 3, "symbolType": "stroke", "symbolSize": 1000, "symbolStrokeWidth": 2.5, "symbolOffset": 1.5, "labelFontSize": 15, "labelOffset": 7, "rowPadding": 1.2, "clipHeight": 15}}
     }},
    {"mark": {"type": "point", "opacity": 0},
     "encoding": {"x": {"field": "t", "type": "quantitative", "scale": {"domain": [0, 200], "nice": false}, "axis": {"orient": "bottom", "title": "4663 G06", "titleAnchor": "end", "titleFontSize": 8, "titleFontWeight": "bold", "titleColor": "#333", "labels": false, "ticks": false, "domain": false, "grid": false, "titlePadding": 46}}}}
   ],
   "resolve": {"scale": {"x": "independent"}, "axis": {"x": "independent"}}
  }
 ], "spacing": 0, "bounds": "flush",
 "resolve": {"scale": {"x": "independent", "y": "independent", "color": "independent", "strokeDash": "independent"}, "legend": {"color": "independent", "strokeDash": "independent"}}},
 {"width": 1, "height": 427, "data": {"values": []}, "mark": "point"},
 {"hconcat": [
  {"width": 60.7, "height": 1, "data": {"values": []}, "mark": "point"},
  {"width": 275, "height": 274,
   "view": {"stroke": "#262626", "strokeWidth": 2},
   "title": {"text": ["ITEC Current Reading Error vs TEC", "Current in Cooling Mode"], "offset": 7},
   "data": {"values": [
    {"i":0.255,"k":"VIN = 3.3V","e":0.97},{"i":0.504,"k":"VIN = 3.3V","e":0.78},{"i":0.741,"k":"VIN = 3.3V","e":0.58},{"i":0.996,"k":"VIN = 3.3V","e":0.58},{"i":1.214,"k":"VIN = 3.3V","e":0.49},{"i":1.323,"k":"VIN = 3.3V","e":0.19},{"i":1.5,"k":"VIN = 3.3V","e":-0.58},
    {"i":0.255,"k":"VIN = 5V","e":-2.63},{"i":0.377,"k":"VIN = 5V","e":-1.9},{"i":0.504,"k":"VIN = 5V","e":-1.36},{"i":0.668,"k":"VIN = 5V","e":-1.02},{"i":0.832,"k":"VIN = 5V","e":-0.88},{"i":0.996,"k":"VIN = 5V","e":-0.88},{"i":1.214,"k":"VIN = 5V","e":-0.83},{"i":1.323,"k":"VIN = 5V","e":-1.17},{"i":1.451,"k":"VIN = 5V","e":-1.85}
   ]},
   "layer": [
    {"mark": {"type": "line", "strokeWidth": 2.5, "interpolate": "monotone"},
     "encoding": {
      "x": {"field": "i", "type": "quantitative", "scale": {"domain": [0, 1.5], "nice": false}, "axis": {"values": [0, 0.5, 1, 1.5], "labelExpr": "datum.value == 0 ? '0' : format(datum.value, '.1f')", "title": "TEC CURRENT (A)", "titlePadding": 10}},
      "y": {"field": "e", "type": "quantitative", "scale": {"domain": [-20, 20], "nice": false, "zero": false}, "axis": {"values": [-20,-15,-10,-5,0,5,10,15,20], "format": "d", "title": "ITEC CURRENT READING ERROR (%)", "titlePadding": 3}},
      "color": {"field": "k", "type": "nominal", "scale": {"domain": ["VIN = 3.3V", "VIN = 5V"], "range": ["#9c1c3c", "#3a54a4"]}, "legend": {"title": null, "orient": "top-left", "offset": 1, "fillColor": "white", "padding": 3, "symbolType": "stroke", "symbolSize": 870, "symbolStrokeWidth": 2.5, "symbolOffset": 3, "labelFontSize": 12.5, "labelOffset": 7, "rowPadding": 2.5, "clipHeight": 13.7}},
      "strokeDash": {"field": "k", "type": "nominal", "scale": {"domain": ["VIN = 3.3V", "VIN = 5V"], "range": [[1, 0], [12, 5]]}, "legend": {"title": null, "orient": "top-left", "offset": 1, "fillColor": "white", "padding": 3, "symbolType": "stroke", "symbolSize": 870, "symbolStrokeWidth": 2.5, "symbolOffset": 3, "labelFontSize": 12.5, "labelOffset": 7, "rowPadding": 2.5, "clipHeight": 13.7}}
     }},
    {"mark": {"type": "point", "opacity": 0},
     "encoding": {"x": {"field": "i", "type": "quantitative", "scale": {"domain": [0, 1.5], "nice": false}, "axis": {"orient": "bottom", "title": "4663 G07", "titleAnchor": "end", "titleFontSize": 8, "titleFontWeight": "bold", "titleColor": "#333", "labels": false, "ticks": false, "domain": false, "grid": false, "titlePadding": 45}}}}
   ],
   "resolve": {"scale": {"x": "independent"}, "axis": {"x": "independent"}}
  },
  {"width": 95.3, "height": 1, "data": {"values": []}, "mark": "point"},
  {"width": 275, "height": 274,
   "view": {"stroke": "#262626", "strokeWidth": 2},
   "title": {"text": ["ITEC Current Reading Error vs TEC", "Current in Heating Mode"], "offset": 7},
   "data": {"values": [
    {"i":-1.478,"k":"VIN = 3.3V","e":-0.78},{"i":-1.369,"k":"VIN = 3.3V","e":-0.92},{"i":-1.25,"k":"VIN = 3.3V","e":-1.07},{"i":-1.132,"k":"VIN = 3.3V","e":-1.17},{"i":-1.014,"k":"VIN = 3.3V","e":-1.31},{"i":-0.896,"k":"VIN = 3.3V","e":-1.56},{"i":-0.777,"k":"VIN = 3.3V","e":-1.85},{"i":-0.659,"k":"VIN = 3.3V","e":-2.24},{"i":-0.544,"k":"VIN = 3.3V","e":-2.87},{"i":-0.495,"k":"VIN = 3.3V","e":-3.31},{"i":-0.44,"k":"VIN = 3.3V","e":-4.09},{"i":-0.34,"k":"VIN = 3.3V","e":-5.99},{"i":-0.253,"k":"VIN = 3.3V","e":-7.69},
    {"i":-1.478,"k":"VIN = 5V","e":-0.76},{"i":-1.369,"k":"VIN = 5V","e":-0.9},{"i":-1.25,"k":"VIN = 5V","e":-1.05},{"i":-1.132,"k":"VIN = 5V","e":-1.16},{"i":-1.014,"k":"VIN = 5V","e":-1.3},{"i":-0.896,"k":"VIN = 5V","e":-1.55},{"i":-0.777,"k":"VIN = 5V","e":-1.84},{"i":-0.659,"k":"VIN = 5V","e":-2.22},{"i":-0.544,"k":"VIN = 5V","e":-2.85},{"i":-0.495,"k":"VIN = 5V","e":-3.29},{"i":-0.44,"k":"VIN = 5V","e":-4.07},{"i":-0.34,"k":"VIN = 5V","e":-5.97},{"i":-0.253,"k":"VIN = 5V","e":-7.67}
   ]},
   "layer": [
    {"mark": {"type": "line", "strokeWidth": 2.5, "interpolate": "monotone"},
     "encoding": {
      "x": {"field": "i", "type": "quantitative", "scale": {"domain": [-1.5, 0], "nice": false, "zero": false}, "axis": {"values": [-1.5, -1, -0.5, 0], "labelExpr": "datum.value == 0 ? '0' : format(datum.value, '.1f')", "title": "TEC CURRENT (A)", "titlePadding": 8, "titleFontSize": 12.5}},
      "y": {"field": "e", "type": "quantitative", "scale": {"domain": [-20, 20], "nice": false, "zero": false}, "axis": {"values": [-20,-15,-10,-5,0,5,10,15,20], "format": "d", "title": "ITEC CURRENT READING ERROR (%)", "titlePadding": 2.6}},
      "color": {"field": "k", "type": "nominal", "scale": {"domain": ["VIN = 3.3V", "VIN = 5V"], "range": ["#9c1c3c", "#3a54a4"]}, "legend": {"title": null, "orient": "top-left", "offset": 1, "fillColor": "white", "padding": 3, "symbolType": "stroke", "symbolSize": 870, "symbolStrokeWidth": 2.5, "symbolOffset": 3, "labelFontSize": 12.5, "labelOffset": 7, "rowPadding": 2.5, "clipHeight": 13.7}},
      "strokeDash": {"field": "k", "type": "nominal", "scale": {"domain": ["VIN = 3.3V", "VIN = 5V"], "range": [[1, 0], [12, 5]]}, "legend": {"title": null, "orient": "top-left", "offset": 1, "fillColor": "white", "padding": 3, "symbolType": "stroke", "symbolSize": 870, "symbolStrokeWidth": 2.5, "symbolOffset": 3, "labelFontSize": 12.5, "labelOffset": 7, "rowPadding": 2.5, "clipHeight": 13.7}}
     }},
    {"mark": {"type": "point", "opacity": 0},
     "encoding": {"x": {"field": "i", "type": "quantitative", "scale": {"domain": [-1.5, 0], "nice": false, "zero": false}, "axis": {"orient": "bottom", "title": "4663 G08", "titleAnchor": "end", "titleFontSize": 8, "titleFontWeight": "bold", "titleColor": "#333", "labels": false, "ticks": false, "domain": false, "grid": false, "titlePadding": 45}}}}
   ],
   "resolve": {"scale": {"x": "independent"}, "axis": {"x": "independent"}}
  },
  {"width": 93.3, "height": 1, "data": {"values": []}, "mark": "point"},
  {"width": 274, "height": 274,
   "view": {"stroke": "#262626", "strokeWidth": 2},
   "title": {"text": ["VTEC Voltage Reading Error vs", "TEC Voltage in Cooling Mode"], "offset": 7},
   "data": {"values": [
    {"i":0.507,"k":"VIN = 3.3V","e":8.64},{"i":0.605,"k":"VIN = 3.3V","e":7.28},{"i":0.751,"k":"VIN = 3.3V","e":5.92},{"i":0.995,"k":"VIN = 3.3V","e":5.0},{"i":1.262,"k":"VIN = 3.3V","e":4.13},{"i":1.506,"k":"VIN = 3.3V","e":3.54},{"i":1.75,"k":"VIN = 3.3V","e":3.06},{"i":1.993,"k":"VIN = 3.3V","e":2.91},{"i":2.237,"k":"VIN = 3.3V","e":2.72},{"i":2.476,"k":"VIN = 3.3V","e":2.52},
    {"i":0.507,"k":"VIN = 5V","e":9.37},{"i":0.605,"k":"VIN = 5V","e":8.01},{"i":0.751,"k":"VIN = 5V","e":6.55},{"i":0.995,"k":"VIN = 5V","e":5.19},{"i":1.262,"k":"VIN = 5V","e":4.37},{"i":1.506,"k":"VIN = 5V","e":3.74},{"i":1.75,"k":"VIN = 5V","e":3.16},{"i":1.993,"k":"VIN = 5V","e":2.91},{"i":2.237,"k":"VIN = 5V","e":2.77},{"i":2.476,"k":"VIN = 5V","e":2.57}
   ]},
   "layer": [
    {"mark": {"type": "line", "strokeWidth": 2.5, "interpolate": "monotone"},
     "encoding": {
      "x": {"field": "i", "type": "quantitative", "scale": {"domain": [0.5, 2.5], "nice": false, "zero": false}, "axis": {"values": [0.5, 1, 1.5, 2, 2.5], "format": ".1f", "title": "TEC VOLTAGE (V)", "titlePadding": 7}},
      "y": {"field": "e", "type": "quantitative", "scale": {"domain": [-20, 20], "nice": false, "zero": false}, "axis": {"values": [-20,-15,-10,-5,0,5,10,15,20], "format": "d", "title": "VTEC VOLTAGE READING ERROR (%)", "titlePadding": 5.7}},
      "color": {"field": "k", "type": "nominal", "scale": {"domain": ["VIN = 3.3V", "VIN = 5V"], "range": ["#9c1c3c", "#3a54a4"]}, "legend": {"title": null, "orient": "top-left", "offset": 1, "fillColor": "white", "padding": 3, "symbolType": "stroke", "symbolSize": 870, "symbolStrokeWidth": 2.5, "symbolOffset": 3, "labelFontSize": 12.5, "labelOffset": 7, "rowPadding": 2.5, "clipHeight": 13.7}},
      "strokeDash": {"field": "k", "type": "nominal", "scale": {"domain": ["VIN = 3.3V", "VIN = 5V"], "range": [[1, 0], [12, 5]]}, "legend": {"title": null, "orient": "top-left", "offset": 1, "fillColor": "white", "padding": 3, "symbolType": "stroke", "symbolSize": 870, "symbolStrokeWidth": 2.5, "symbolOffset": 3, "labelFontSize": 12.5, "labelOffset": 7, "rowPadding": 2.5, "clipHeight": 13.7}}
     }},
    {"mark": {"type": "point", "opacity": 0},
     "encoding": {"x": {"field": "i", "type": "quantitative", "scale": {"domain": [0.5, 2.5], "nice": false, "zero": false}, "axis": {"orient": "bottom", "title": "4663 G09", "titleAnchor": "end", "titleFontSize": 8, "titleFontWeight": "bold", "titleColor": "#333", "labels": false, "ticks": false, "domain": false, "grid": false, "titlePadding": 46}}}}
   ],
   "resolve": {"scale": {"x": "independent"}, "axis": {"x": "independent"}}
  }
 ], "spacing": 0, "bounds": "flush",
 "resolve": {"scale": {"x": "independent", "y": "independent", "color": "independent", "strokeDash": "independent"}, "legend": {"color": "independent", "strokeDash": "independent"}}},
 {"width": 1, "height": 369, "data": {"values": []}, "mark": "point"},
 {"width": 1087, "height": 1, "data": {"values": []}, "mark": "point",
  "title": {"text": "Rev. A", "orient": "bottom", "anchor": "end", "baseline": "alphabetic", "offset": 11.5, "fontSize": 14.5, "fontWeight": "normal", "color": "#111"}},
 {"width": 1, "height": 18, "data": {"values": []}, "mark": "point"},
 {"width": 1087, "height": 7, "view": {"fill": "black", "stroke": null}, "data": {"values": []}, "mark": "point"},
 {"hconcat": [
  {"width": 543.5, "height": 1, "data": {"values": []}, "mark": "point",
   "title": {"text": "4", "orient": "bottom", "anchor": "start", "baseline": "alphabetic", "offset": 47, "fontSize": 68, "fontWeight": 300, "color": "#111"}},
  {"width": 543.5, "height": 1, "data": {"values": []}, "mark": "point",
   "title": {"text": "www.datasheetall.com", "orient": "bottom", "anchor": "start", "align": "center", "baseline": "alphabetic", "offset": 46, "fontSize": 26, "fontWeight": "normal", "color": "#1a1aff"}}
 ], "spacing": 0, "bounds": "flush"}
]
}
